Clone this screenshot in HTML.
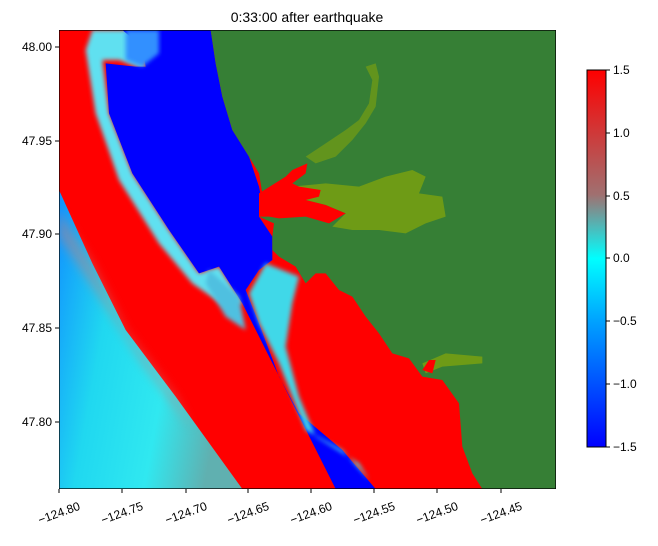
<!DOCTYPE html>
<html><head><meta charset="utf-8"><style>
body{margin:0;background:#fff;width:658px;height:541px;overflow:hidden;font-family:"Liberation Sans",sans-serif}
</style></head><body>
<svg width="658" height="541" xmlns="http://www.w3.org/2000/svg" font-family="Liberation Sans, sans-serif">
<defs>
<linearGradient id="cb" x1="0" y1="0" x2="0" y2="1">
<stop offset="0" stop-color="#ff0000"/><stop offset="0.33" stop-color="#a07070"/>
<stop offset="0.5" stop-color="#00ffff"/><stop offset="0.67" stop-color="#00a0ff"/>
<stop offset="1" stop-color="#0000ff"/></linearGradient>
<linearGradient id="sw" x1="0" y1="0" x2="1" y2="0.3">
<stop offset="0" stop-color="#1090ff"/><stop offset="0.35" stop-color="#20d8f0"/>
<stop offset="0.7" stop-color="#30e8f0"/><stop offset="1" stop-color="#60b0b0"/></linearGradient>
<filter id="bl"><feGaussianBlur stdDeviation="6"/></filter>
<filter id="bl2"><feGaussianBlur stdDeviation="15"/></filter>
</defs>
<text x="307" y="22" font-size="14" text-anchor="middle">0:33:00 after earthquake</text>
<svg x="59" y="30" width="497" height="459" viewBox="0 0 1491 1377" preserveAspectRatio="none">
<rect width="1491" height="1377" fill="#ff0000"/>
<polygon points="0,480 100,700 200,900 350,1100 550,1377 0,1377" fill="url(#sw)"/>
<polygon points="0,620 120,800 250,1000 400,1200 350,1100 200,900 100,700 0,540" fill="#c08080" opacity="0.5" filter="url(#bl2)"/>
<polygon points="100,0 230,0 260,120 180,90 130,90 150,250 220,430 330,600 420,730 480,710 550,820 500,830 400,760 300,640 180,450 110,250 80,60" fill="#60e0f0" filter="url(#bl)"/>
<polygon points="190,0 455,0 470,100 490,200 520,300 570,380 600,470 610,520 600,560 640,620 640,690 600,720 560,780 600,880 660,1040 720,1150 850,1260 950,1377 830,1377 550,820 480,710 420,730 330,600 220,430 150,250 140,100 230,110 260,110 250,50" fill="#0000ff"/>
<polygon points="200,0 300,0 300,70 250,110 200,90" fill="#3090ff" filter="url(#bl)"/>
<polygon points="620,700 720,740 700,820 680,950 720,1100 770,1220 900,1300 930,1350 850,1260 740,1200 700,1100 660,1000 600,880 570,790" fill="#40d8e8" filter="url(#bl)"/>
<polygon points="450,720 540,800 560,900 500,860 440,760" fill="#50c0e0" filter="url(#bl)"/>
<polygon points="455,0 1491,0 1491,1377 1270,1377 1240,1330 1210,1250 1200,1120 1150,1050 1090,1040 1050,985 1000,970 960,910 920,860 880,800 840,780 800,730 770,730 740,760 710,710 660,680 640,660 640,620 645,580 600,560 610,490 600,430 570,380 520,300 490,200 470,100" fill="#367f35"/>
<polygon points="740,380 800,340 860,300 900,270 930,220 940,150 920,110 950,100 960,140 950,230 920,280 880,330 830,380 770,400" fill="#6e9a18" opacity="0.8"/>
<polygon points="700,470 800,460 900,470 980,440 1060,420 1100,440 1080,490 1150,500 1160,560 1100,580 1040,610 960,600 880,600 820,590 860,550 800,525 740,510" fill="#78a010" opacity="0.85"/>
<polygon points="1090,1000 1160,970 1270,980 1270,1000 1150,1010 1100,1030" fill="#78a010" opacity="0.85"/>
<polygon points="600,490 680,440 700,420 745,400 740,430 700,460 720,470 785,480 780,500 740,510 800,525 860,550 810,580 740,560 660,565 630,560 600,560" fill="#ff0000"/>
<polygon points="1090,1020 1110,990 1130,990 1120,1030" fill="#ff0000"/>
<rect x="0.5" y="0.5" width="1490" height="1376" fill="none" stroke="#000" stroke-width="3"/>
</svg>
<g font-size="12" fill="#000">
<g stroke="#000">
<line x1="59" y1="489" x2="59" y2="493"/><line x1="122" y1="489" x2="122" y2="493"/><line x1="186" y1="489" x2="186" y2="493"/><line x1="248" y1="489" x2="248" y2="493"/><line x1="311" y1="489" x2="311" y2="493"/><line x1="374" y1="489" x2="374" y2="493"/><line x1="437" y1="489" x2="437" y2="493"/><line x1="501" y1="489" x2="501" y2="493"/>
<line x1="55" y1="47" x2="59" y2="47"/><line x1="55" y1="141" x2="59" y2="141"/><line x1="55" y1="234" x2="59" y2="234"/><line x1="55" y1="328" x2="59" y2="328"/><line x1="55" y1="422" x2="59" y2="422"/>
</g>
<g text-anchor="middle">
<text transform="translate(59,513) rotate(-20)" dy="4">−124.80</text>
<text transform="translate(122,513) rotate(-20)" dy="4">−124.75</text>
<text transform="translate(186,513) rotate(-20)" dy="4">−124.70</text>
<text transform="translate(248,513) rotate(-20)" dy="4">−124.65</text>
<text transform="translate(311,513) rotate(-20)" dy="4">−124.60</text>
<text transform="translate(374,513) rotate(-20)" dy="4">−124.55</text>
<text transform="translate(437,513) rotate(-20)" dy="4">−124.50</text>
<text transform="translate(501,513) rotate(-20)" dy="4">−124.45</text>
</g>
<g text-anchor="end">
<text x="52" y="51">48.00</text><text x="52" y="145">47.95</text><text x="52" y="238">47.90</text><text x="52" y="332">47.85</text><text x="52" y="426">47.80</text>
</g>
<rect x="587" y="70" width="19" height="377" fill="url(#cb)" stroke="#000" stroke-width="1"/>
<g stroke="#000"><line x1="606" y1="70" x2="610" y2="70"/><line x1="606" y1="133" x2="610" y2="133"/><line x1="606" y1="196" x2="610" y2="196"/><line x1="606" y1="258" x2="610" y2="258"/><line x1="606" y1="321" x2="610" y2="321"/><line x1="606" y1="384" x2="610" y2="384"/><line x1="606" y1="447" x2="610" y2="447"/></g>
<text x="613" y="74">1.5</text><text x="613" y="137">1.0</text><text x="613" y="200">0.5</text><text x="613" y="262">0.0</text><text x="613" y="325">−0.5</text><text x="613" y="388">−1.0</text><text x="613" y="451">−1.5</text>
</g>
</svg>
</body></html>
